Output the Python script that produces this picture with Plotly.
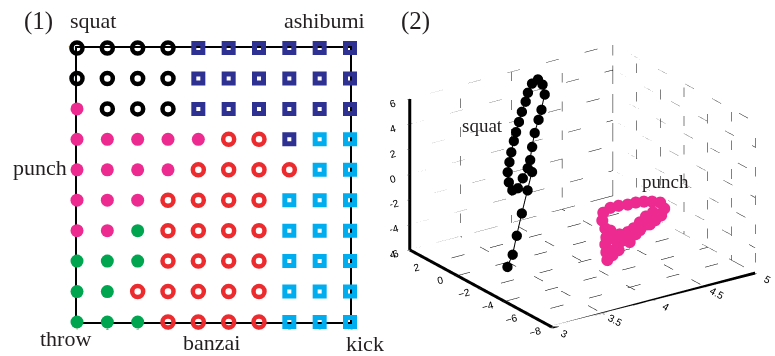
import plotly.graph_objects as go

# ---------------- Panel (1): SOM map ----------------
som_rows = [            # top row (10) to bottom row (1)
    "SSSSAAAAAA",
    "SSSSAAAAAA",
    "PSSSAAAAAA",
    "PPPPPBBAKK",
    "PPPPBBBBKK",
    "PPPBBBBKKK",
    "PPTBBBBKKK",
    "TTTBBBBKKK",
    "TTBBBBBKKK",
    "TTTBBBBKKK",
]
grid_ticks = [1, 2, 3, 4, 5, 6, 7, 8, 9, 10]

styles = {
    "S": dict(symbol="circle-open", color="#000000", size=11, lw=4.5),
    "A": dict(symbol="square-open", color="#2E3192", size=9, lw=5),
    "P": dict(symbol="circle", color="#EC2A90", size=13, lw=0),
    "B": dict(symbol="circle-open", color="#EC2B2F", size=11, lw=4.5),
    "K": dict(symbol="square-open", color="#00AEEF", size=9, lw=5),
    "T": dict(symbol="circle", color="#00A550", size=13, lw=0),
}

# ---------------- Panel (2): 3D trajectories ----------------
squat_x = [3.26, 3.35, 3.45, 3.57, 3.70, 3.80, 3.82, 3.88, 3.95, 4.03, 4.09, 4.17, 4.18, 4.15,
           4.08, 4.01, 3.96, 3.89, 3.83, 3.77, 3.72, 3.66, 3.61, 3.56, 3.54, 3.55, 3.61, 3.69, 3.77]
squat_y = [-2.00, -1.67, -1.16, -0.56, 0.07, 0.55, 0.88, 1.23, 1.61, 1.97, 2.24, 2.65, 2.92, 3.05,
           2.95, 2.70, 2.46, 2.18, 1.91, 1.64, 1.40, 1.10, 0.83, 0.55, 0.28, 0.07, 0.12, 0.39, 0.66]
squat_z = [-4.83, -4.22, -3.19, -1.98, -0.75, 0.25, 0.99, 1.72, 2.49, 3.18, 3.71, 4.54, 5.17, 5.58,
           5.45, 5.00, 4.52, 4.01, 3.47, 2.93, 2.45, 1.84, 1.30, 0.75, 0.13, -0.42, -0.41, 0.07, 0.56]

punch_x = [4.01, 4.00, 3.99, 4.00, 4.04, 4.09, 4.15, 4.23, 4.29, 4.34, 4.41, 4.48, 4.54, 4.57,
           4.53, 4.45, 4.37, 4.29, 4.21, 4.12, 4.04, 3.97, 3.96, 3.99, 4.06, 4.13, 4.21, 4.27,
           4.33, 4.39, 4.46, 4.51, 4.43, 4.33, 4.23, 4.12, 4.06, 4.09]
punch_y = [-4.0] * 38
punch_z = [-4.87, -4.23, -3.58, -3.05, -2.59, -3.40, -3.61, -3.60, -3.41, -3.05, -2.89, -2.72, -2.46, -1.98,
           -1.42, -1.17, -1.00, -0.90, -0.89, -0.79, -0.78, -1.02, -1.62, -2.32, -2.94, -3.09, -3.08, -2.90,
           -2.56, -2.22, -2.05, -2.48, -2.93, -3.18, -3.91, -4.32, -4.59, -4.18]

x3_ticks = [3, 3.5, 4, 4.5, 5]
y3_ticks = [-8, -6, -4, -2, 0, 2, 4]
z3_ticks = [-6, -4, -2, 0, 2, 4, 6]

fig = go.Figure()

# SOM markers
n = len(som_rows)
for code, st in styles.items():
    xs, ys = [], []
    for r, row in enumerate(som_rows):
        for c, ch in enumerate(row):
            if ch == code:
                xs.append(grid_ticks[c])
                ys.append(grid_ticks[n - 1 - r])
    fig.add_trace(go.Scatter(
        x=xs, y=ys, mode="markers", cliponaxis=False, showlegend=False,
        marker=dict(symbol=st["symbol"], color=st["color"], size=st["size"],
                    line=dict(width=st["lw"], color=st["color"])),
        xaxis="x", yaxis="y"))

# 3D dotted grid on back planes
xmin, xmax = x3_ticks[0], x3_ticks[-1]
ymin, ymax = y3_ticks[0], y3_ticks[-1]
zmin, zmax = z3_ticks[0], z3_ticks[-1]
gx, gy, gz = [], [], []
def seg(p, q):
    gx.extend([p[0], q[0], None]); gy.extend([p[1], q[1], None]); gz.extend([p[2], q[2], None])
for xv in x3_ticks:
    seg((xv, ymax, zmin), (xv, ymax, zmax))
    seg((xv, ymin, zmin), (xv, ymax, zmin))
for yv in y3_ticks:
    seg((xmax, yv, zmin), (xmax, yv, zmax))
    seg((xmin, yv, zmin), (xmax, yv, zmin))
for zv in z3_ticks:
    seg((xmin, ymax, zv), (xmax, ymax, zv))
    seg((xmax, ymin, zv), (xmax, ymax, zv))
fig.add_trace(go.Scatter3d(x=gx, y=gy, z=gz, mode="lines", showlegend=False, hoverinfo="skip",
                           line=dict(color="#000000", width=1, dash="dot"), scene="scene"))
# thick axis lines
fig.add_trace(go.Scatter3d(
    x=[xmin, xmax, None, xmin, xmin, None, xmin, xmin],
    y=[ymin, ymin, None, ymin, ymax, None, ymax, ymax],
    z=[zmin, zmin, None, zmin, zmin, None, zmin, zmax],
    mode="lines", showlegend=False, hoverinfo="skip",
    line=dict(color="#000000", width=6), scene="scene"))

fig.add_trace(go.Scatter3d(x=squat_x, y=squat_y, z=squat_z, mode="lines+markers", showlegend=False,
                           line=dict(color="#000000", width=2),
                           marker=dict(color="#000000", size=6), scene="scene"))
fig.add_trace(go.Scatter3d(x=punch_x, y=punch_y, z=punch_z, mode="lines+markers", showlegend=False,
                           line=dict(color="#EC2A90", width=2),
                           marker=dict(color="#EC2A90", size=7), scene="scene"))

ax3 = dict(showgrid=False, zeroline=False, showline=False, showbackground=False,
           showspikes=False, title=dict(text=""), ticks="outside", ticklen=3,
           tickfont=dict(family="Liberation Sans, Arial", size=11, color="#000"))

serif = "Liberation Serif, Times New Roman, serif"
fig.update_layout(
    width=775, height=356, margin=dict(l=0, r=0, t=0, b=0),
    paper_bgcolor="white", plot_bgcolor="white",
    xaxis=dict(domain=[77/775, 350/775], range=[1, 10], tickvals=grid_ticks,
               showgrid=False, zeroline=False, showline=True, mirror=True, automargin=False,
               linecolor="#000", linewidth=2, layer="below traces", ticks="",
               tickfont=dict(size=5, color="#666"), fixedrange=True),
    yaxis=dict(domain=[34/356, 308/356], range=[1, 10], tickvals=grid_ticks,
               showgrid=False, zeroline=False, showline=True, mirror=True, automargin=False,
               linecolor="#000", linewidth=2, layer="below traces", ticks="",
               tickfont=dict(size=5, color="#666"), fixedrange=True),
    scene=dict(
        domain=dict(x=[390/775, 1.0], y=[10/356, 330/356]),
        xaxis=dict(range=[xmin, xmax], tickvals=x3_ticks, **ax3),
        yaxis=dict(range=[ymin, ymax], tickvals=y3_ticks, **ax3),
        zaxis=dict(range=[zmin, zmax], tickvals=z3_ticks, **ax3),
        aspectmode="manual", aspectratio=dict(x=1.55, y=1.55, z=1.02),
        camera=dict(eye=dict(x=-0.674, y=-0.962, z=0.483), projection=dict(type="orthographic")),
        bgcolor="white"),
)

labels = [
    ("(1)", 38, 21, 25), ("squat", 93, 21, 22), ("ashibumi", 324, 21, 22),
    ("punch", 40, 167, 22), ("throw", 65, 338, 22), ("banzai", 211, 342, 22),
    ("kick", 365, 343, 22), ("(2)", 415, 21, 25),
    ("squat", 483, 125, 19), ("punch", 665, 181, 19),
]
for txt, px, py, fs in labels:
    fig.add_annotation(text=txt, x=px/775, y=1 - py/356, xref="paper", yref="paper",
                       showarrow=False, xanchor="center", yanchor="middle",
                       font=dict(family=serif, size=fs, color="#231F20"))

fig.write_html("out.html", config={"displayModeBar": False},
               post_script="document.body.style.margin='0';document.body.style.overflow='hidden';")
